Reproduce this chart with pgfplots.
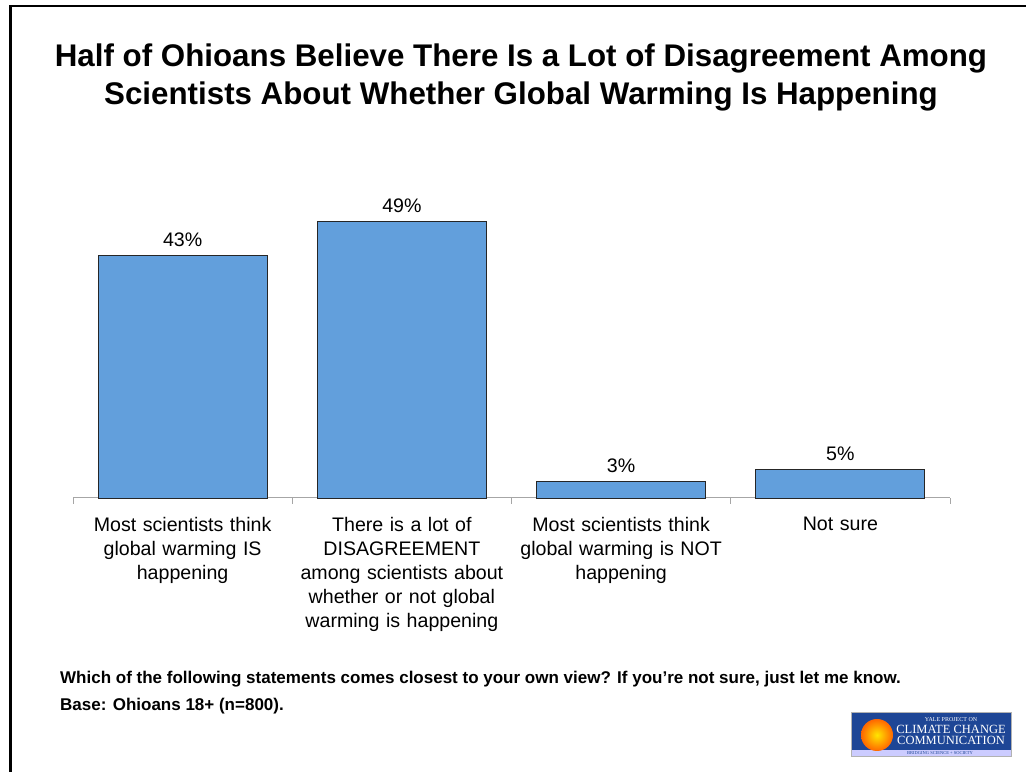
\documentclass[border=0pt]{standalone}
\usepackage{pgfplots}
\pgfplotsset{compat=1.18}
\usepackage{fontspec}
\setmainfont{Liberation Sans}
\newfontfamily\logofont{Liberation Serif}
\definecolor{barblue}{RGB}{98,159,220}
\definecolor{logoblue}{RGB}{30,70,150}
\begin{document}
\begin{tikzpicture}[x=1bp,y=1bp]
\path[use as bounding box] (0,0) rectangle (1026,772);
% frame
\draw[line width=2.5bp] (10.3,0) -- (10.3,765.8) -- (1026,765.8);
% title
\node[align=center,font=\fontsize{31.3bp}{38bp}\selectfont\bfseries] at (521,695) {Half of Ohioans Believe There Is a Lot of Disagreement Among\\Scientists About Whether Global Warming Is Happening};
\begin{axis}[
  at={(73bp,274bp)}, anchor=south west,
  scale only axis, width=877bp, height=339bp,
  xmin=-0.5, xmax=3.5, ymin=0, ymax=60,
  axis x line*=bottom, axis y line=none,
  x axis line style={draw=gray!70, line width=1bp, -},
  xtick={0,1,2,3},
  xticklabels={{Most scientists think\\global warming IS\\happening},{There is a lot of\\DISAGREEMENT\\among scientists about\\whether or not global\\warming is happening},{Most scientists think\\global warming is NOT\\happening},{Not sure}},
  major tick length=0pt,
  extra x ticks={-0.5,0.5,1.5,2.5,3.5},
  extra x tick labels={},
  extra x tick style={tick style={draw=gray!70, line width=1bp}, major tick length=6bp, tick align=outside},
  xticklabel style={align=center, font=\fontsize{19.6bp}{24bp}\selectfont, text width=230bp, yshift=-16bp},
  ybar, bar width=169bp,
  bar shift=0pt,
  point meta=explicit symbolic,
  nodes near coords,
  nodes near coords style={font=\fontsize{19.6bp}{22bp}\selectfont, yshift=5bp},
  clip=false,
]
\addplot[fill=barblue, draw=black!85, line width=0.9bp] coordinates {(0,43) [43\%] (1,49) [49\%] (2,3) [3\%] (3,5) [5\%]};
\end{axis}
% footnotes
\node[anchor=base west, font=\fontsize{17bp}{18bp}\selectfont\bfseries, inner sep=0pt] at (60,88) {Which of the following statements comes closest to your own view? If you’re not sure, just let me know.};
\node[anchor=base west, font=\fontsize{17bp}{18bp}\selectfont\bfseries, inner sep=0pt] at (60,61) {Base: Ohioans 18+ (n=800).};
% logo
\fill[gray!60] (851,15) rectangle (1012,60);
\fill[logoblue] (852,16) rectangle (1011,59);
\fill[blue!20!white] (852,16) rectangle (1011,22);
\shade[inner color=yellow!80!orange, outer color=orange!80!red] (877,37) circle (16);
\node[text=white, font=\logofont\fontsize{6bp}{6bp}\selectfont, anchor=base] at (951,50) {YALE PROJECT ON};
\node[text=white, font=\logofont\fontsize{12.5bp}{11bp}\selectfont, anchor=base] at (951,38) {CLIMATE CHANGE};
\node[text=white, font=\logofont\fontsize{12.5bp}{11bp}\selectfont, anchor=base] at (951,27) {COMMUNICATION};
\node[text=logoblue, font=\logofont\fontsize{4.5bp}{5bp}\selectfont, anchor=base] at (940,17.5) {BRIDGING SCIENCE + SOCIETY};
\end{tikzpicture}
\end{document}
